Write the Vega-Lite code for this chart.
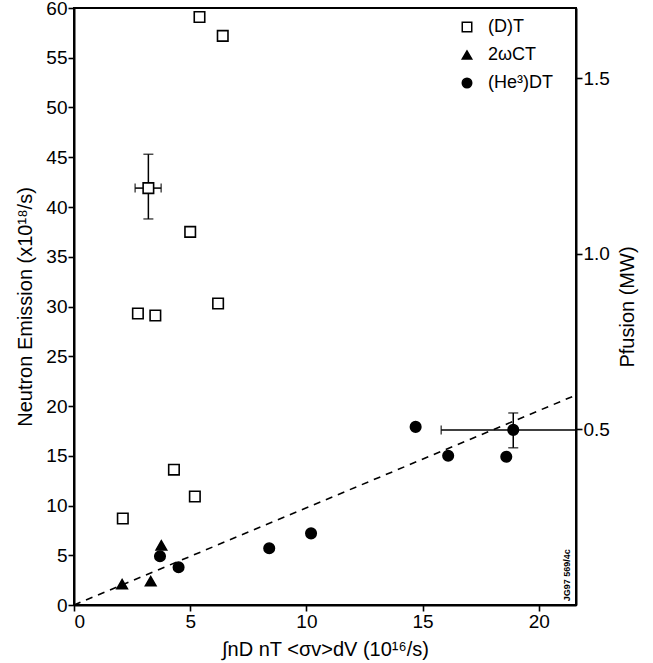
{
  "$schema": "https://vega.github.io/schema/vega-lite/v6.json",
  "width": 502,
  "height": 597,
  "autosize": {"type": "none"},
  "padding": {"left": 74, "top": 8, "right": 77, "bottom": 58},
  "background": "white",
  "config": {
    "view": {"stroke": "black", "strokeWidth": 2},
    "font": "Liberation Sans",
    "axis": {
      "grid": false,
      "ticks": true,
      "tickSize": 6,
      "tickWidth": 1.6,
      "tickColor": "black",
      "domainColor": "black",
      "domainWidth": 2,
      "labelColor": "black",
      "titleColor": "black",
      "labelFont": "Liberation Sans",
      "titleFont": "Liberation Sans",
      "labelFontSize": 19,
      "titleFontSize": 20,
      "titleFontWeight": "normal"
    },
    "legend": {
      "labelFont": "Liberation Sans",
      "labelFontSize": 18,
      "labelColor": "black"
    }
  },
  "datasets": {
    "pts": [
      {"x": 5.4, "y": 59.1, "s": "(D)T"},
      {"x": 6.4, "y": 57.2, "s": "(D)T"},
      {"x": 3.2, "y": 41.9, "s": "(D)T"},
      {"x": 5.0, "y": 37.5, "s": "(D)T"},
      {"x": 2.75, "y": 29.3, "s": "(D)T"},
      {"x": 3.5, "y": 29.1, "s": "(D)T"},
      {"x": 6.2, "y": 30.3, "s": "(D)T"},
      {"x": 4.3, "y": 13.6, "s": "(D)T"},
      {"x": 5.2, "y": 10.9, "s": "(D)T"},
      {"x": 2.1, "y": 8.7, "s": "(D)T"},
      {"x": 2.07, "y": 2.1, "s": "2ωCT"},
      {"x": 3.3, "y": 2.4, "s": "2ωCT"},
      {"x": 3.76, "y": 6.0, "s": "2ωCT"},
      {"x": 3.7, "y": 4.9, "s": "(He³)DT"},
      {"x": 4.5, "y": 3.8, "s": "(He³)DT"},
      {"x": 8.4, "y": 5.7, "s": "(He³)DT"},
      {"x": 10.2, "y": 7.2, "s": "(He³)DT"},
      {"x": 14.7, "y": 17.9, "s": "(He³)DT"},
      {"x": 16.1, "y": 15.0, "s": "(He³)DT"},
      {"x": 18.6, "y": 14.9, "s": "(He³)DT"},
      {"x": 18.9, "y": 17.6, "s": "(He³)DT"}
    ],
    "vbars": [
      {"x": 3.2, "lo": 38.8, "hi": 45.3},
      {"x": 18.9, "lo": 15.8, "hi": 19.3}
    ],
    "hbars": [
      {"y": 41.9, "lo": 2.63, "hi": 3.75},
      {"y": 17.6, "lo": 15.8, "hi": 21.6}
    ],
    "capsH": [
      {"x": 3.2, "y": 38.8},
      {"x": 3.2, "y": 45.3},
      {"x": 18.9, "y": 15.8},
      {"x": 18.9, "y": 19.3}
    ],
    "capsV": [
      {"x": 2.63, "y": 41.9},
      {"x": 3.75, "y": 41.9},
      {"x": 15.8, "y": 17.6}
    ],
    "fit": [
      {"x": 0, "y": 0},
      {"x": 21.6, "y": 21.1}
    ],
    "note": [
      {"x": 21.2, "y": 3.0, "t": "JG97 569/4c"}
    ],
    "power": [
      {"p": 0},
      {"p": 1.7}
    ]
  },
  "layer": [
    {
      "layer": [
        {
          "data": {"name": "fit"},
          "mark": {"type": "line", "color": "black", "strokeWidth": 1.6, "strokeDash": [7, 6]},
          "encoding": {
            "x": {"field": "x", "type": "quantitative", "scale": {"domain": [0, 21.6], "nice": false},
              "axis": {"values": [0, 5, 10, 15, 20], "labelPadding": 1,
                "title": "∫nD nT <σv>dV (10¹⁶/s)", "titlePadding": 8}},
            "y": {"field": "y", "type": "quantitative", "scale": {"domain": [0, 60], "nice": false},
              "axis": {"values": [0, 5, 10, 15, 20, 25, 30, 35, 40, 45, 50, 55, 60], "labelPadding": 1,
                "title": "Neutron Emission (x10¹⁸/s)", "titlePadding": 10}}
          }
        },
        {
          "data": {"name": "vbars"},
          "mark": {"type": "rule", "color": "black", "strokeWidth": 1.5},
          "encoding": {
            "x": {"field": "x", "type": "quantitative"},
            "y": {"field": "lo", "type": "quantitative"},
            "y2": {"field": "hi"}
          }
        },
        {
          "data": {"name": "hbars"},
          "mark": {"type": "rule", "color": "black", "strokeWidth": 1.5},
          "encoding": {
            "y": {"field": "y", "type": "quantitative"},
            "x": {"field": "lo", "type": "quantitative"},
            "x2": {"field": "hi"}
          }
        },
        {
          "data": {"name": "capsH"},
          "mark": {"type": "tick", "orient": "horizontal", "color": "black", "size": 10, "thickness": 1.5},
          "encoding": {
            "x": {"field": "x", "type": "quantitative"},
            "y": {"field": "y", "type": "quantitative"}
          }
        },
        {
          "data": {"name": "capsV"},
          "mark": {"type": "tick", "orient": "vertical", "color": "black", "size": 9, "thickness": 1.5},
          "encoding": {
            "x": {"field": "x", "type": "quantitative"},
            "y": {"field": "y", "type": "quantitative"}
          }
        },
        {
          "data": {"name": "pts"},
          "mark": {"type": "point", "stroke": "black", "strokeWidth": 1.6, "opacity": 1},
          "encoding": {
            "x": {"field": "x", "type": "quantitative"},
            "y": {"field": "y", "type": "quantitative"},
            "shape": {"field": "s", "type": "nominal",
              "scale": {"domain": ["(D)T", "2ωCT", "(He³)DT"], "range": ["square", "triangle-up", "circle"]},
              "legend": {"title": null, "orient": "none", "legendX": 384, "legendY": 10, "rowPadding": 10,
                "labelOffset": 12, "symbolSize": 90,
                "encode": {"symbols": {"update": {"stroke": {"value": "black"}, "strokeWidth": {"value": 1.6}}}}}},
            "fill": {"field": "s", "type": "nominal",
              "scale": {"domain": ["(D)T", "2ωCT", "(He³)DT"], "range": ["white", "black", "black"]},
              "legend": {"title": null, "orient": "none", "legendX": 384, "legendY": 10, "rowPadding": 10,
                "labelOffset": 12, "symbolSize": 90,
                "encode": {"symbols": {"update": {"stroke": {"value": "black"}, "strokeWidth": {"value": 1.6}}}}}},
            "size": {"value": 110}
          }
        },
        {
          "data": {"name": "note"},
          "mark": {"type": "text", "angle": 270, "fontSize": 9, "fontWeight": "bold", "color": "black", "align": "center", "baseline": "middle"},
          "encoding": {
            "x": {"field": "x", "type": "quantitative"},
            "y": {"field": "y", "type": "quantitative"},
            "text": {"field": "t"}
          }
        }
      ]
    },
    {
      "data": {"name": "power"},
      "mark": {"type": "rule", "opacity": 0},
      "encoding": {
        "y": {"field": "p", "type": "quantitative", "scale": {"domain": [0, 1.7], "nice": false},
          "axis": {"orient": "right", "values": [0.5, 1.0, 1.5], "format": ".1f", "labelPadding": 1,
            "title": "Pfusion (MW)", "titleAngle": 270, "titlePadding": 28}}
      }
    }
  ],
  "resolve": {"scale": {"y": "independent"}}
}
